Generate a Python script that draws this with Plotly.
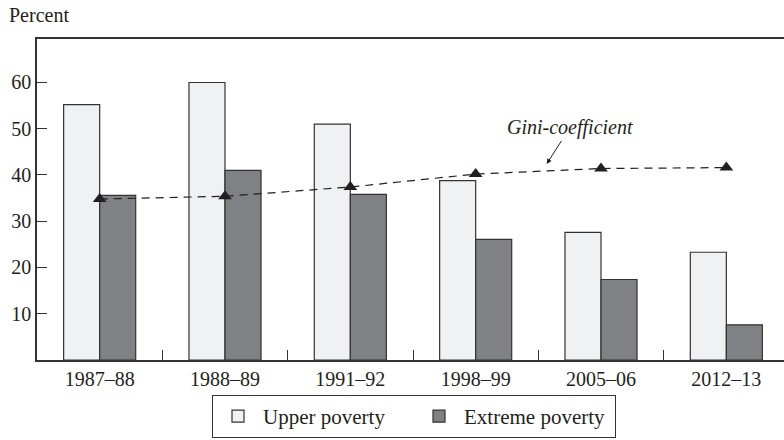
import plotly.graph_objects as go

categories = ["1987–88", "1988–89", "1991–92", "1998–99", "2005–06", "2012–13"]
upper_poverty = [55.2, 60.0, 51.0, 38.8, 27.6, 23.3]
extreme_poverty = [35.6, 41.0, 35.8, 26.1, 17.4, 7.6]
gini = [34.8, 35.4, 37.4, 40.2, 41.4, 41.6]
y_ticks = [10, 20, 30, 40, 50, 60]

FONT = "Liberation Serif"
TXT = "#231f20"
FS = 20

fig = go.Figure()
fig.add_trace(go.Bar(
    x=categories, y=upper_poverty, name="Upper poverty",
    marker=dict(color="#f0f1f3", line=dict(color="#333333", width=1.2)),
))
fig.add_trace(go.Bar(
    x=categories, y=extreme_poverty, name="Extreme poverty",
    marker=dict(color="#808184", line=dict(color="#333333", width=1.2)),
))
fig.add_trace(go.Scatter(
    x=categories, y=gini, mode="lines+markers", name="Gini-coefficient",
    line=dict(color="#231f20", width=1.2, dash="8px,6px"),
    marker=dict(symbol="triangle-up", size=12, color="#231f20"),
    showlegend=False,
))

fig.add_annotation(
    x=3.567, y=42.4, xref="x", yref="y",
    text="<i>Gini-coefficient</i>", showarrow=True,
    ax=23, ay=-36, arrowhead=2, arrowsize=1, arrowwidth=1, arrowcolor="#231f20",
    font=dict(family=FONT, size=FS, color=TXT),
)
fig.add_annotation(
    x=(7 - 37) / 747, y=1 + (39 - 15) / 321, xref="paper", yref="paper",
    text="Percent", showarrow=False,
    font=dict(family=FONT, size=FS, color=TXT), xanchor="left", yanchor="middle",
)

fig.update_layout(
    width=784, height=440,
    margin=dict(l=37, r=0, t=39, b=80, autoexpand=False),
    paper_bgcolor="white", plot_bgcolor="white",
    barmode="group", bargap=0.425, bargroupgap=0,
    font=dict(family=FONT, size=FS, color=TXT),
    legend=dict(
        orientation="h", xref="container", yref="container",
        x=414 / 784, xanchor="center", y=2 / 440, yanchor="bottom",
        bordercolor="#333333", borderwidth=1, font=dict(family=FONT, size=21, color=TXT),
        traceorder="normal", itemwidth=40, entrywidth=146, entrywidthmode="pixels",
    ),
    xaxis=dict(
        range=[-0.5, 5.46], showline=True, linecolor="#333333", linewidth=1.5,
        mirror=True, ticks="inside", tickson="boundaries", ticklen=10, automargin=False,
        tickcolor="#333333", showgrid=False, tickfont=dict(family=FONT, size=FS, color=TXT),
    ),
    yaxis=dict(
        range=[0, 69.4], showline=True, linecolor="#333333", linewidth=1.5,
        ticks="inside", ticklen=10, tickcolor="#333333", tickvals=y_ticks, automargin=False,
        showgrid=False, zeroline=False, tickfont=dict(family=FONT, size=FS, color=TXT),
    ),
)

fig.write_html(
    "out.html",
    config={"displayModeBar": False},
    post_script="document.body.style.margin='0';document.body.style.overflow='hidden';",
)
